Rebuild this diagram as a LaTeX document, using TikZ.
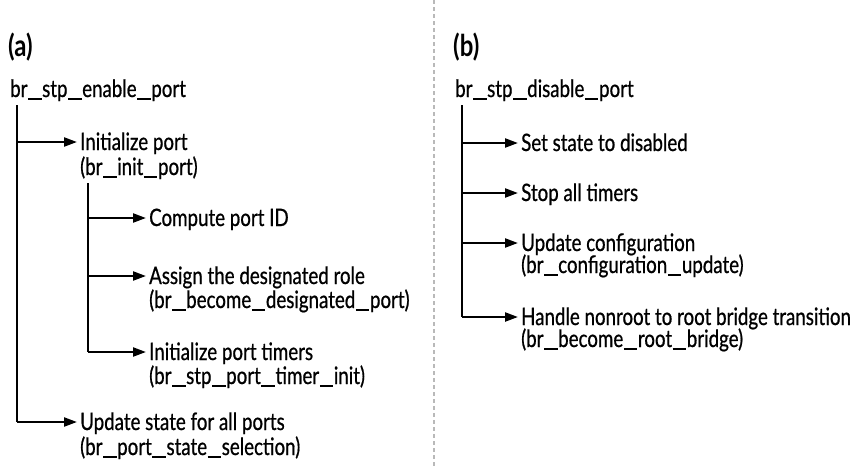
\documentclass[tikz,border=0pt]{standalone}
\usepackage{fontspec}
\newfontfamily\myf{Lato}[FakeStretch=0.78,FakeBold=0.7]
\newfontfamily\myfb{Lato Bold}[FakeStretch=0.8]
\usetikzlibrary{arrows.meta}
\newcommand\us{\kern0.6pt\rule[-3pt]{13.5pt}{1.8pt}\kern0.6pt}
\begin{document}
\begin{tikzpicture}[x=1pt,y=-1pt,
  txt/.style={inner xsep=3pt,inner ysep=0pt,anchor=base west,font=\myf\fontsize{24}{26}\selectfont,text height=16pt,text depth=0pt},
  lbl/.style={inner sep=0pt,anchor=west,font=\myfb\fontsize{30}{32}\selectfont},
  line/.style={line width=2.2pt,black},
  arr/.style={line,-{Triangle[length=13pt,width=9pt]}},
  divider/.style={line width=2.4pt,gray!55,dash pattern=on 3.5pt off 3.5pt}]
\useasboundingbox (0,0) rectangle (855,467);
\fill[white] (0,0) rectangle (855,467);
% divider
\coordinate (dtop) at (434,0);
\coordinate (dbot) at (434,467);
\draw[divider] (dtop) -- (dbot);
% ---- (a)
\node[lbl] (la) at (8,47) {(a)};
\node[txt,inner xsep=0pt] (ra) at (10,97) {br\us stp\us enable\us port};
\coordinate (ta) at (17,105);
\node[txt] (a1) at (77,150) {Initialize port};
\node[txt] (a1b) at (77,175) {(br\us init\us port)};
\coordinate (tb) at (88,183);
\node[txt] (a2) at (146,226) {Compute port ID};
\node[txt] (a3) at (146,284) {Assign the designated role};
\node[txt] (a3b) at (146,308) {(br\us become\us designated\us port)};
\node[txt] (a4) at (146,360) {Initialize port timers};
\node[txt] (a4b) at (146,384) {(br\us stp\us port\us timer\us init)};
\node[txt] (a5) at (77,430) {Update state for all ports};
\node[txt] (a5b) at (77,455) {(br\us port\us state\us selection)};
\draw[line] (ta) -- (ta |- a5.west);
\draw[line] (tb) -- (tb |- a4.west);
\draw[arr] (ta |- a1.west) -- (a1.west);
\draw[arr] (tb |- a2.west) -- (a2.west);
\draw[arr] (tb |- a3.west) -- (a3.west);
\draw[arr] (tb |- a4.west) -- (a4.west);
\draw[arr] (ta |- a5.west) -- (a5.west);
% ---- (b)
\node[lbl] (lb) at (453,47) {(b)};
\node[txt,inner xsep=0pt] (rb) at (455,97) {br\us stp\us disable\us port};
\coordinate (tc) at (462,105);
\node[txt] (b1) at (518,151) {Set state to disabled};
\node[txt] (b2) at (518,201) {Stop all timers};
\node[txt] (b3) at (518,251) {Update configuration};
\node[txt] (b3b) at (518,273) {(br\us configuration\us update)};
\node[txt] (b4) at (518,325) {Handle nonroot to root bridge transition};
\node[txt] (b4b) at (518,347) {(br\us become\us root\us bridge)};
\draw[line] (tc) -- (tc |- b4.west);
\draw[arr] (tc |- b1.west) -- (b1.west);
\draw[arr] (tc |- b2.west) -- (b2.west);
\draw[arr] (tc |- b3.west) -- (b3.west);
\draw[arr] (tc |- b4.west) -- (b4.west);
\end{tikzpicture}
\end{document}
